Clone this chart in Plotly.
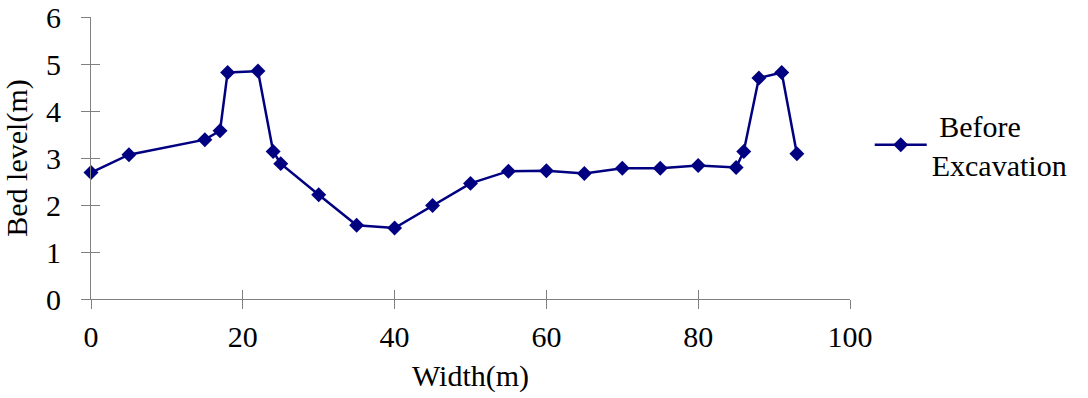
import plotly.graph_objects as go

width_m = [0, 5, 15, 17, 18, 22, 24, 25, 30, 35, 40, 45, 50, 55, 60, 65, 70, 75, 80, 85, 86, 88, 91, 93]
bed_level = [2.69, 3.07, 3.39, 3.58, 4.82, 4.85, 3.14, 2.88, 2.22, 1.57, 1.51, 1.99, 2.46, 2.72,
             2.73, 2.67, 2.78, 2.78, 2.84, 2.80, 3.14, 4.70, 4.82, 3.09]
series_name = "&nbsp;Before<br>Excavation"
x_ticks = [0, 20, 40, 60, 80, 100]
y_ticks = [0, 1, 2, 3, 4, 5, 6]

FONT = "Times New Roman, Tinos, Liberation Serif, DejaVu Serif, serif"
NAVY = "#000080"
AX = "#808080"

fig = go.Figure()
# invisible companion trace so the overlay axes (inside half of crossing ticks) are drawn
fig.add_trace(go.Scatter(
    x=width_m, y=bed_level, mode="markers", xaxis="x2", yaxis="y2",
    marker=dict(opacity=0), showlegend=False, hoverinfo="skip",
))
fig.add_trace(go.Scatter(
    x=width_m, y=bed_level, mode="lines+markers", name=series_name,
    line=dict(color=NAVY, width=2.5),
    marker=dict(symbol="diamond", size=11.5, color=NAVY),
    cliponaxis=False,
))

axis_common = dict(showgrid=False, zeroline=False, ticklen=9, tickwidth=1, tickcolor=AX,
                   automargin=False)

fig.update_layout(
    width=1088, height=398,
    margin=dict(l=91, r=238, t=17, b=99),
    paper_bgcolor="white", plot_bgcolor="white",
    font=dict(family=FONT, size=30, color="black"),
    xaxis=dict(range=[0, 100], tickvals=x_ticks, ticks="outside", showline=True,
               linecolor=AX, linewidth=1, ticklabelstandoff=2,
               tickfont=dict(family=FONT, size=30),
               title=dict(text="Width(m)", font=dict(family=FONT, size=30), standoff=12), **axis_common),
    yaxis=dict(range=[0, 6], tickvals=y_ticks, ticks="outside", showline=True,
               linecolor=AX, linewidth=1, ticklabelstandoff=14,
               tickfont=dict(family=FONT, size=30),
               title=dict(text="Bed level(m)", font=dict(family=FONT, size=30), standoff=10), **axis_common),
    xaxis2=dict(range=[0, 100], tickvals=x_ticks, ticks="inside", overlaying="x", anchor="y",
                side="bottom", showticklabels=False, showline=False, **axis_common),
    yaxis2=dict(range=[0, 6], tickvals=y_ticks, ticks="inside", overlaying="y", anchor="x",
                side="left", showticklabels=False, showline=False, **axis_common),
    showlegend=True,
    legend=dict(x=1.026, y=0.547, xanchor="left", yanchor="middle", itemwidth=52,
                font=dict(family=FONT, size=30), bgcolor="rgba(0,0,0,0)"),
)

fig.write_html("out.html")
